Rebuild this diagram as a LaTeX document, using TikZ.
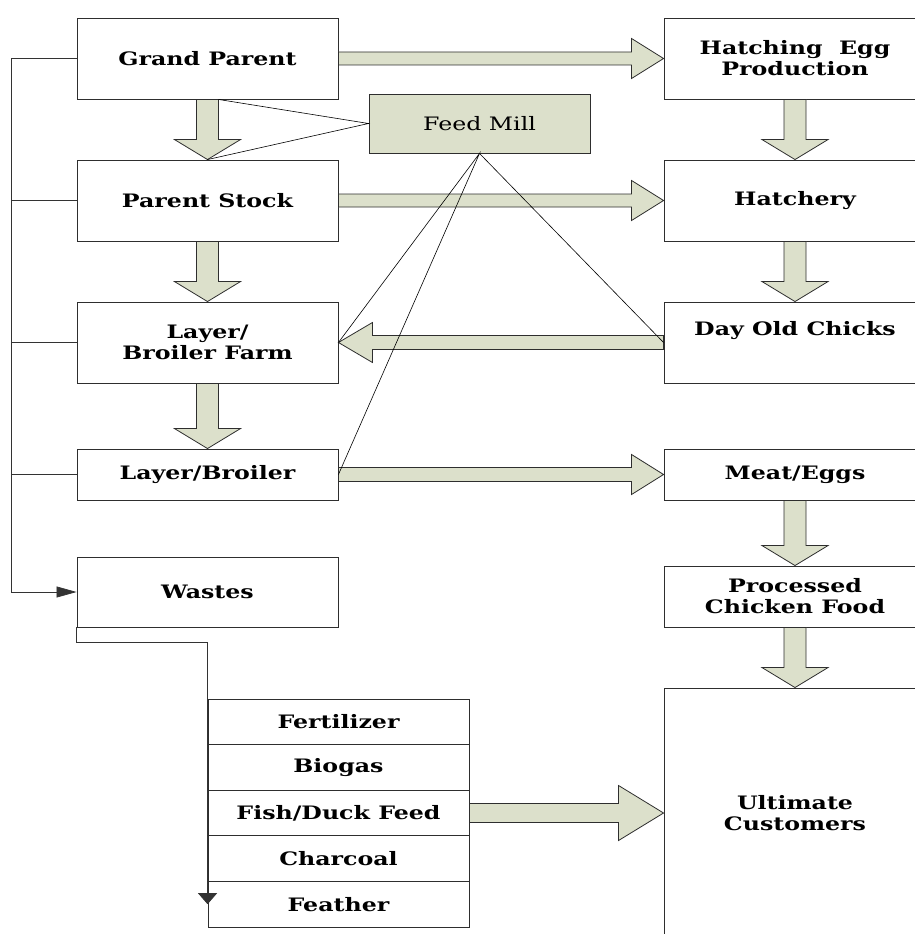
\documentclass[tikz,border=0pt]{standalone}
\usepackage{fontspec}
\setmainfont{DejaVu Serif}[FakeStretch=1.28]
\usetikzlibrary{calc,arrows.meta}
\definecolor{sage}{HTML}{DCE0CB}
\definecolor{edge}{HTML}{2E2E2E}

% block arrow pointing down from #1 to its tip #2
\newcommand\downblk[2]{%
  \filldraw[blk] let \p1=(#1),\p2=(#2) in
    (\x1-11pt,\y1) -- (\x1-11pt,\y2+20pt) -- (\x1-33pt,\y2+20pt) -- (\x2,\y2)
    -- (\x1+33pt,\y2+20pt) -- (\x1+11pt,\y2+20pt) -- (\x1+11pt,\y1) -- cycle;}
% horizontal block arrow from #1 to tip #2: shaft half height #3, head half height #4, head length #5
\newcommand\sideblk[5]{%
  \filldraw[blk] let \p1=(#1),\p2=(#2),\p3=($(#2)!#5!(#1)$) in
    (\x1,\y1+#3) -- (\x3,\y1+#3) -- (\x3,\y1+#4) -- (\x2,\y2)
    -- (\x3,\y1-#4) -- (\x3,\y1-#3) -- (\x1,\y1-#3) -- cycle;}

\begin{document}
\begin{tikzpicture}[x=1pt,y=-1pt,
  box/.style={draw=edge, line width=0.9pt, minimum width=261pt, minimum height=#1,
    inner sep=0pt, align=center, font=\bfseries\fontsize{18.5}{21}\selectfont},
  box/.default=81pt,
  rbox/.style={box=#1, minimum width=262pt},
  rbox/.default=81pt,
  row/.style={box=45.6pt},
  mill/.style={draw=edge, line width=0.9pt, fill=sage, minimum width=221pt, minimum height=59pt,
    inner sep=0pt, font=\fontsize{18.5}{21}\selectfont},
  blk/.style={fill=sage, draw=edge, line width=0.8pt, line join=miter},
  conn/.style={draw=black!80, line width=0.7pt},
  feed/.style={draw=black, line width=0.6pt}]

\clip (0,0) rectangle (915,934);
\fill[white] (0,0) rectangle (915,934);

% left column
\node[box] (gp)  at (207.5,58.5) {Grand Parent};
\node[box] (ps)  at (207.5,200.5) {Parent Stock};
\node[box] (lbf) at (207.5,342.5) {Layer/\\Broiler Farm};
\node[box=51pt] (lb) at (207.5,474.5) {Layer/Broiler};
\node[box=70pt] (wastes) at (207.5,592) {Wastes};

% right column
\node[rbox] (hep) at (795,58.5) {Hatching~~Egg\\Production};
\node[rbox] (hat) at (795,200.5) {Hatchery};
\node[rbox] (doc) at (795,342.5) {Day Old Chicks\\\strut};
\node[rbox=51pt] (me) at (795,474.5) {Meat/Eggs};
\node[rbox=61pt] (pcf) at (795,596.5) {Processed\\Chicken Food};
\node[rbox=250pt] (uc) at (795,813) {Ultimate\\Customers};

% feed mill
\node[mill] (fm) at (479.5,123.5) {Feed Mill};

% waste products
\node[row] (fert) at (338.5,721.8) {Fertilizer};
\node[row] (bio)  at (338.5,767.4) {Biogas};
\node[row] (fish) at (338.5,813)   {Fish/Duck Feed};
\node[row] (char) at (338.5,858.6) {Charcoal};
\node[row] (feather) at (338.5,904.2) {Feather};

% block arrows
\downblk{gp.south}{ps.north}
\downblk{ps.south}{lbf.north}
\downblk{lbf.south}{lb.north}
\downblk{hep.south}{hat.north}
\downblk{hat.south}{doc.north}
\downblk{me.south}{pcf.north}
\downblk{pcf.south}{uc.north}
\sideblk{gp.east}{hep.west}{6.5pt}{20pt}{32pt}
\sideblk{ps.east}{hat.west}{6.5pt}{20pt}{32pt}
\sideblk{doc.west}{lbf.east}{7pt}{20pt}{34pt}
\sideblk{lb.east}{me.west}{7pt}{20pt}{32pt}
\sideblk{fish.east}{uc.west}{9.5pt}{27.5pt}{45pt}

% feed supply lines
\coordinate (gpfeed) at ($(gp.south)+(11,0)$);
\draw[feed] (gpfeed) -- (fm.west) -- (ps.north);
\draw[feed] (lbf.east) -- (fm.south) -- (lb.east);
\draw[feed] (fm.south) -- (doc.west);

% waste collection bus
\draw[conn,-{Triangle[length=20pt,width=11pt]}] (gp.west) -- ++(-65,0) coordinate (bus) |- (wastes.west);
\foreach \n in {ps,lbf,lb} \draw[conn] (\n.west) -- (\n.west -| bus);
\draw[conn,-{Triangle[length=11pt,width=19pt]}] (wastes.south west) -- ++(0,15) -| (feather.west);

\end{tikzpicture}
\end{document}
